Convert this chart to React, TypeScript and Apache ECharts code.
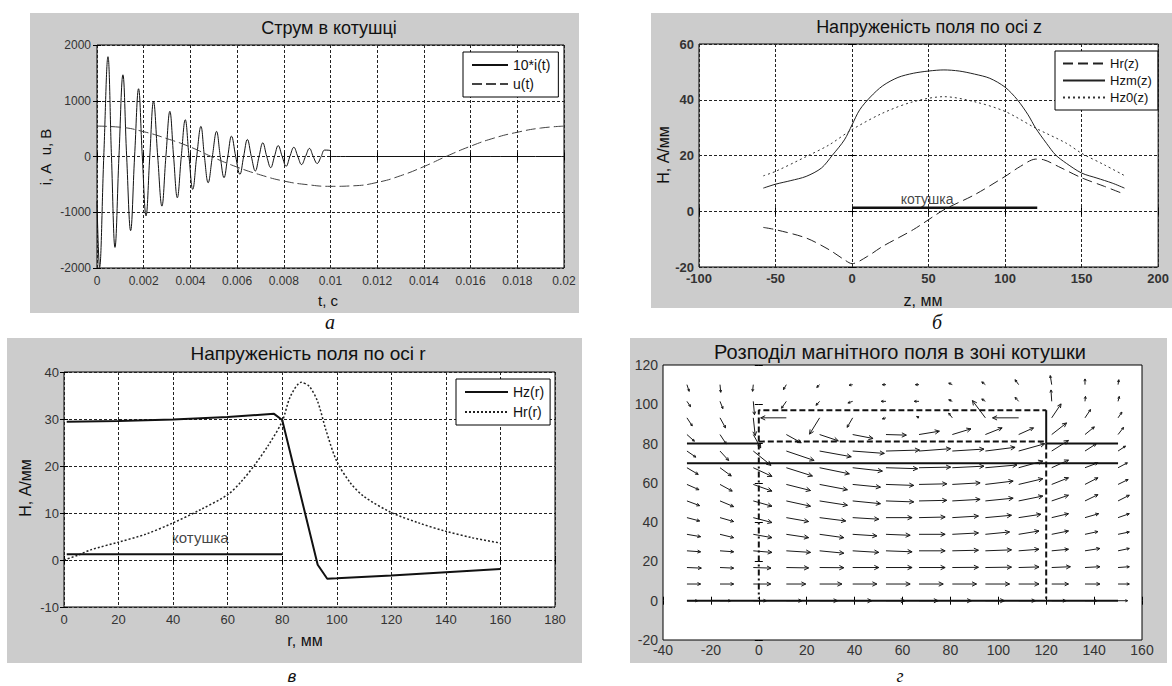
import React, { useEffect, useRef } from "react";
import * as echarts from "echarts";

// ---------- Panel а: current & voltage ----------
const currentT = [0, 0.00011, 0.00029, 0.00047, 0.00062, 0.00077, 0.00094, 0.00111, 0.00127, 0.00144, 0.00161, 0.00178, 0.00194, 0.0021, 0.00226, 0.00242, 0.0026, 0.00278, 0.00295, 0.00312, 0.00328, 0.00344, 0.00361, 0.00378, 0.00394, 0.0041, 0.00427, 0.00445, 0.0046, 0.00476, 0.00494, 0.00512, 0.00528, 0.00544, 0.0056, 0.00576, 0.00594, 0.00612, 0.00628, 0.00644, 0.00661, 0.00678, 0.00694, 0.0071, 0.00727, 0.00744, 0.0076, 0.00776, 0.00793, 0.0081, 0.00826, 0.00843, 0.0086, 0.00876, 0.00893, 0.0091, 0.00926, 0.00943, 0.0096, 0.00975, 0.01, 0.01, 0.02];
const currentI = [-800, -1990, 0, 1790, 0, -1630, 0, 1465, 0, -1330, 0, 1215, 0, -1065, 0, 990, 0, -890, 0, 810, 0, -740, 0, 660, 0, -590, 0, 540, 0, -470, 0, 450, 0, -380, 0, 365, 0, -320, 0, 305, 0, -260, 0, 245, 0, -200, 0, 195, 0, -175, 0, 165, 0, -145, 0, 145, 0, -125, 0, 115, 100, 0, 0];
const voltageT = [0, 0.001, 0.002, 0.003, 0.004, 0.005, 0.006, 0.007, 0.008, 0.009, 0.01, 0.011, 0.012, 0.013, 0.014, 0.015, 0.016, 0.017, 0.018, 0.019, 0.02];
const voltageU = [545, 525, 445, 320, 170, -20, -190, -330, -440, -505, -535, -525, -465, -345, -180, 10, 185, 330, 435, 510, 545];

// ---------- Panel б: field along z ----------
const hzmZ = [-58, -50, -40, -30, -20, -13, -5, 0, 5, 12, 20, 30, 40, 50, 60, 70, 80, 90, 100, 108, 115, 120, 127, 133, 140, 150, 160, 170, 178];
const hzmH = [8.3, 9.7, 11, 12.5, 15.5, 20, 25.6, 31, 36.4, 41, 45, 48, 49.5, 50.3, 50.7, 50.3, 49.2, 47.7, 44.5, 40, 34.6, 29.8, 24.4, 20.2, 17.2, 13.7, 11.9, 10.1, 8.3];
const hz0Z = [-58, -50, -30, -15, 0, 20, 40, 60, 80, 100, 120, 140, 150, 165, 178];
const hz0H = [12.7, 14.3, 19.6, 23.8, 29.3, 35.2, 39.3, 41.1, 39.3, 35.8, 29.8, 24.4, 20.8, 16.6, 12.8];
const hrZ = [-58, -50, -30, -15, -5, 0, 10, 20, 40, 60, 80, 100, 110, 120, 125, 135, 150, 165, 178];
const hrH = [-5.8, -6.6, -9.6, -13.8, -17.4, -18.8, -16.2, -12.6, -6.6, 0.5, 5.9, 12.5, 16.1, 18.7, 18.5, 16, 12, 8.9, 6.1];
const coilZ = [0, 121];
const coilZH = [1.3, 1.3];
const coilZLabel = [49, 1.3];

// ---------- Panel в: field along r ----------
const hzR = [1, 20, 40, 60, 77, 80, 93, 96.5, 100, 120, 140, 160];
const hzRH = [29.4, 29.6, 29.9, 30.4, 31.1, 29.8, -1, -4, -3.9, -3.3, -2.6, -1.9];
const hrR = [0, 5, 10, 20, 30, 40, 50, 60, 65, 70, 75, 80, 83, 87, 90, 93, 96, 100, 105, 110, 120, 130, 140, 150, 160];
const hrRH = [0, 1, 2.2, 3.8, 5.5, 7.9, 10.7, 13.9, 16.7, 20.3, 24.5, 29.5, 34.8, 37.8, 36.9, 33.7, 27.7, 21, 16.4, 13.5, 10.1, 7.9, 6.1, 4.7, 3.6];
const coilR = [1, 80];
const coilRH = [1.2, 1.2];
const coilRLabel = [50, 1.2];

// ---------- Panel г: field map ----------
const quiverX = [-30, -16.2, -2.3, 11.5, 25.4, 39.2, 53.1, 66.9, 80.8, 94.6, 108.5, 122.3, 136.2, 150];
const quiverY = [0, 8.5, 16.9, 25.4, 33.8, 42.3, 50.8, 59.2, 67.7, 76.2, 84.6, 93.1, 101.5, 110];
const quiverU = [
  [4.5, 4.5, 5.5, 6.5, 7.5, 8, 8, 8, 8, 8, 7, 6, 5, 4],
  [5.7, 5.7, 7.3, 8.1, 9.3, 10.1, 10.1, 10.1, 10.1, 10.1, 8.5, 7.0, 6.2, 4.7],
  [6.0, 5.7, 7.4, 9.3, 10.1, 10.9, 10.9, 10.9, 10.9, 10.9, 8.5, 7.8, 6.2, 4.7],
  [5.7, 5.7, 7.8, 10.1, 10.1, 10.9, 10.9, 10.9, 10.9, 10.9, 8.5, 7.0, 6.2, 4.7],
  [5.7, 5.7, 7.8, 9.3, 10.1, 10.1, 10.1, 10.9, 10.9, 10.1, 8.5, 7.0, 5.4, 4.7],
  [5.3, 5.7, 7.8, 9.3, 10.9, 10.9, 10.9, 10.9, 10.9, 10.9, 9.3, 7.0, 5.7, 4.7],
  [5.3, 5.7, 7.8, 10.1, 11.6, 11.6, 11.6, 11.6, 11.6, 11.6, 10.1, 7.0, 5.4, 4.7],
  [5.0, 5.1, 7.8, 10.1, 11.6, 11.6, 11.6, 11.6, 11.6, 11.6, 10.1, 7.0, 5.4, 4.2],
  [4.7, 4.7, 7.8, 10.9, 12.4, 12.4, 13.2, 13.2, 13.2, 13.2, 10.1, 7.0, 5.4, 3.9],
  [3.7, 3.6, 7.4, 11.6, 13.2, 13.2, 14.0, 13.2, 13.2, 12.4, 10.9, 7.0, 4.7, 3.1],
  [3.1, 2.6, 3.1, 6.2, 7.8, 8.5, 8.5, 8.5, 7.8, 7.0, 6.2, 6.2, 3.9, 2.3],
  [2.2, 2.3, 0.8, -10.7, -4.2, -2.3, -1.5, -1.0, -1.5, -5.4, -10.9, 3.9, 2.3, 1.6],
  [1.5, 1.2, 0.5, -2.0, -1.5, -2.0, -2.0, -2.0, -1.5, -1.5, -1.5, -0.3, 0.2, 0.5],
  [0.9, 0.3, -0.3, -1.2, -1.2, -1.5, -1.5, -1.5, -1.5, -1.5, -1.5, -0.6, 0, 0.3],
];
const quiverV = [
  [0, 0, 0, 0, 0, 0, 0, 0, 0, 0, 0, 0, 0, 0],
  [0, 0, 0, 0, 0, 0, 0, 0, 0, 0, 0, 0, 0, 0],
  [-0.3, -0.3, -0.3, -0.2, -0.1, 0, 0, 0, 0.1, 0.2, 0.3, 0.4, 0.4, 0.4],
  [-0.5, -0.5, -0.8, -0.8, -1.2, -0.8, -0.5, 0, 0.3, 0.5, 0.8, 0.8, 1.2, 1.2],
  [-1.2, -1.7, -1.7, -1.7, -1.7, -0.8, -0.5, 0, 0.7, 1.2, 1.7, 1.7, 1.4, 1.2],
  [-1.7, -2.0, -2.5, -2.0, -1.7, -0.8, 0, 0.3, 0.8, 1.2, 1.7, 2.0, 2.0, 2.0],
  [-2.4, -2.9, -2.7, -2.7, -2.2, -1.4, -0.5, 0.3, 0.8, 1.4, 2.5, 2.9, 3.2, 2.9],
  [-2.7, -3.4, -3.4, -3.1, -2.7, -1.4, -0.5, 0.3, 0.8, 1.7, 2.9, 3.4, 3.4, 2.5],
  [-3.4, -4.2, -4.4, -4.2, -3.1, -1.7, -0.5, 0.3, 0.8, 1.4, 3.4, 3.9, 2.5, 2.5],
  [-3.1, -4.8, -7.3, -4.8, -2.9, -1.2, 0.5, 1.2, 1.0, 1.9, 3.7, 5.4, 3.7, 2.5],
  [-3.4, -4.8, -6.8, -4.2, -3.2, -2.0, -0.3, 1.7, 2.9, 3.4, 3.4, 5.9, 3.9, 3.6],
  [-4.1, -5.1, -9.0, 0, -8.3, -4.8, -0.5, 0.7, 2.4, 8.8, 0, 7.1, 4.2, 2.9],
  [-2.7, -3.7, -6.8, -3.5, -2.0, -0.8, 0, 0, 0.8, 1.2, 2.0, 5.8, 2.5, 2.5],
  [-3.4, -3.9, -3.4, -2.5, -1.4, -0.3, 0, 0, 0.8, 1.4, 2.5, 4.6, 2.9, 2.5],
];
const baseLineX = [-30, 150];
const baseLineY = [0, 0];
const innerLineX = [-30, 150];
const innerLineY = [70, 70];
const outerLeftX = [-30, 0];
const outerLeftY = [80, 80];
const outerRightX = [120, 150];
const outerRightY = [80, 80];
const rectRightX = [120, 120];
const rectRightY = [97, 80];
const rectTopX = [0, 0, 120];
const rectTopY = [81, 97, 97];
const rectBottomX = [0, 120];
const rectBottomY = [81, 81];
const leftWallX = [0, 0];
const leftWallY = [80, 1];
const rightWallX = [120, 120];
const rightWallY = [80, 1];

// ---------- layout / style ----------
const FONT = "'Liberation Sans', Arial, Helvetica, sans-serif";
const PANEL_BOXES = [
  [30, 13, 549, 300],
  [651, 13, 521, 295],
  [7, 338, 575, 325],
  [630, 338, 537, 325],
];
const GRIDS = [
  { left: 97, top: 45, width: 467, height: 223 },
  { left: 699, top: 44, width: 464, height: 223 },
  { left: 64, top: 372, width: 491, height: 235 },
  { left: 663, top: 365, width: 479, height: 275 },
];

const pairs = (xs: number[], ys: number[]) => xs.map((x, i) => [x, ys[i]]);

function mainX(g: number, min: number, max: number, interval: number, fs: number, bold: boolean, split: boolean, margin: number, fmt?: (v: number) => string) {
  return {
    type: "value", gridIndex: g, min, max, interval, position: "bottom",
    axisLine: { show: false },
    axisTick: { show: true, inside: true, length: 4, lineStyle: { color: "#000" } },
    axisLabel: { show: true, margin, fontSize: fs, fontFamily: FONT, color: "#333", fontWeight: bold ? "bold" : "normal", formatter: fmt || ((v: number) => String(v)), showMinLabel: true, showMaxLabel: true },
    splitLine: { show: split, lineStyle: { color: "#222", width: 1, type: [3, 2] } },
  };
}
function mainY(g: number, min: number, max: number, interval: number, fs: number, bold: boolean, split: boolean, margin: number) {
  return {
    type: "value", gridIndex: g, min, max, interval, position: "left",
    axisLine: { show: false },
    axisTick: { show: true, inside: true, length: 4, lineStyle: { color: "#000" } },
    axisLabel: { show: true, margin, fontSize: fs, fontFamily: FONT, color: "#333", fontWeight: bold ? "bold" : "normal", formatter: (v: number) => String(v), showMinLabel: true, showMaxLabel: true },
    splitLine: { show: split, lineStyle: { color: "#222", width: 1, type: [3, 2] } },
  };
}
function mirror(kind: "x" | "y", g: number, min: number, max: number, interval: number) {
  return {
    type: "value", gridIndex: g, min, max, interval, position: kind === "x" ? "top" : "right",
    axisLine: { show: false },
    axisTick: { show: true, inside: true, length: 4, lineStyle: { color: "#000" } },
    axisLabel: { show: false },
    splitLine: { show: false },
  };
}

function lineSeries(name: string, g: number, xs: number[], ys: number[], lineStyle: any, smooth: number | boolean = false) {
  return {
    type: "line", name, xAxisIndex: g, yAxisIndex: g, data: pairs(xs, ys),
    symbol: "none", showSymbol: false, smooth, lineStyle, itemStyle: { color: lineStyle.color }, silent: true, z: 3,
  };
}

function labelSeries(g: number, pt: number[], text: string, fs: number, dist: number) {
  return {
    type: "scatter", xAxisIndex: g, yAxisIndex: g, data: [pt], symbolSize: 2,
    itemStyle: { color: "rgba(0,0,0,0)" }, silent: true, z: 4,
    label: { show: true, position: "top", distance: dist, formatter: text, fontSize: fs, fontFamily: FONT, color: "#111" },
  };
}

const renderArrow = (_params: any, api: any) => {
  const x = api.value(0), y = api.value(1), u = api.value(2), v = api.value(3);
  const p0 = api.coord([x, y]);
  const p1 = api.coord([x + u, y + v]);
  const dx = p1[0] - p0[0], dy = p1[1] - p0[1];
  const L = Math.hypot(dx, dy);
  const ang = Math.atan2(dy, dx);
  const h = Math.min(5, Math.max(2.5, L * 0.25));
  const a = 0.45;
  return {
    type: "group",
    children: [
      { type: "line", shape: { x1: p0[0], y1: p0[1], x2: p1[0], y2: p1[1] }, style: { stroke: "#1a1a1a", lineWidth: 1 } },
      {
        type: "polyline",
        shape: { points: [[p1[0] - h * Math.cos(ang - a), p1[1] - h * Math.sin(ang - a)], [p1[0], p1[1]], [p1[0] - h * Math.cos(ang + a), p1[1] - h * Math.sin(ang + a)]] },
        style: { stroke: "#1a1a1a", lineWidth: 1, fill: "none" },
      },
    ],
  };
};

function txt(text: string, x: number, y: number, font: string, rotation = 0) {
  return { type: "text", x, y, rotation, silent: true, style: { text, font, fill: "#111", align: "center", verticalAlign: "middle", textAlign: "center", textVerticalAlign: "middle" } };
}

export default function App() {
  const ref = useRef<HTMLDivElement>(null);
  useEffect(() => {
    if (!ref.current) return;
    const chart = echarts.init(ref.current, undefined, { renderer: "svg" });
    const quiverData: number[][] = [];
    quiverY.forEach((y, r) => quiverX.forEach((x, c) => quiverData.push([x, y, quiverU[r][c], quiverV[r][c]])));

    const legendBase = {
      orient: "vertical", selectedMode: false, backgroundColor: "#fff", borderColor: "#000", borderWidth: 1, borderRadius: 0,
      itemStyle: { opacity: 0 },
    };

    const option: any = {
      animation: false,
      grid: GRIDS.map((g) => ({ ...g, show: true, backgroundColor: "#fff", borderColor: "#000", borderWidth: 1, containLabel: false })),
      xAxis: [
        mainX(0, 0, 0.02, 0.002, 12, false, true, 7, (v: number) => String(Math.round(v * 10000) / 10000)),
        mainX(1, -100, 200, 50, 13, true, true, 5),
        mainX(2, 0, 180, 20, 13, false, true, 6),
        mainX(3, -40, 160, 20, 14, false, false, 3),
        mirror("x", 0, 0, 0.02, 0.002),
        mirror("x", 1, -100, 200, 50),
        mirror("x", 2, 0, 180, 20),
        mirror("x", 3, -40, 160, 20),
      ],
      yAxis: [
        mainY(0, -2000, 2000, 1000, 12, false, true, 6),
        mainY(1, -20, 60, 20, 13, true, true, 5),
        mainY(2, -10, 40, 10, 13, false, true, 5),
        mainY(3, -20, 120, 20, 14, false, false, 5),
        mirror("y", 0, -2000, 2000, 1000),
        mirror("y", 1, -20, 60, 20),
        mirror("y", 2, -10, 40, 10),
        mirror("y", 3, -20, 120, 20),
      ],
      legend: [
        { ...legendBase, data: ["10*i(t)", "u(t)"], left: 463, top: 52, padding: [6, 8, 6, 8], itemWidth: 36, itemHeight: 14, itemGap: 5, textStyle: { fontSize: 14, fontFamily: FONT, color: "#111" } },
        { ...legendBase, data: ["Hr(z)", "Hzm(z)", "Hz0(z)"], left: 1055, top: 51, padding: [6, 6, 6, 7], itemWidth: 42, itemHeight: 14, itemGap: 4, textStyle: { fontSize: 13, fontFamily: FONT, color: "#111" } },
        { ...legendBase, data: ["Hz(r)", "Hr(r)"], left: 456, top: 379, padding: [6, 6, 6, 8], itemWidth: 43, itemHeight: 14, itemGap: 6, textStyle: { fontSize: 14, fontFamily: FONT, color: "#111" } },
      ],
      series: [
        lineSeries("10*i(t)", 0, currentT, currentI, { color: "#111", width: 1, type: "solid" }, 0.4),
        lineSeries("u(t)", 0, voltageT, voltageU, { color: "#444", width: 1, type: [10, 4] }, true),

        lineSeries("Hr(z)", 1, hrZ, hrH, { color: "#222", width: 1, type: [10, 5] }, 0.3),
        lineSeries("Hzm(z)", 1, hzmZ, hzmH, { color: "#222", width: 1, type: "solid" }, 0.3),
        lineSeries("Hz0(z)", 1, hz0Z, hz0H, { color: "#333", width: 1, type: [2, 3] }, 0.3),
        lineSeries("coilZ", 1, coilZ, coilZH, { color: "#111", width: 2.5, type: "solid" }),
        labelSeries(1, coilZLabel, "котушка", 14, 1),

        lineSeries("Hz(r)", 2, hzR, hzRH, { color: "#111", width: 2, type: "solid" }),
        lineSeries("Hr(r)", 2, hrR, hrRH, { color: "#222", width: 1.5, type: [2, 2] }, 0.3),
        lineSeries("coilR", 2, coilR, coilRH, { color: "#111", width: 2, type: "solid" }),
        labelSeries(2, coilRLabel, "котушка", 15, 8),

        lineSeries("g1", 3, baseLineX, baseLineY, { color: "#111", width: 2, type: "solid" }),
        lineSeries("g2", 3, innerLineX, innerLineY, { color: "#111", width: 2, type: "solid" }),
        lineSeries("g3", 3, outerLeftX, outerLeftY, { color: "#111", width: 2, type: "solid" }),
        lineSeries("g4", 3, outerRightX, outerRightY, { color: "#111", width: 2, type: "solid" }),
        lineSeries("g5", 3, rectRightX, rectRightY, { color: "#111", width: 2, type: "solid" }),
        lineSeries("g6", 3, rectTopX, rectTopY, { color: "#111", width: 2, type: [6, 3] }),
        lineSeries("g7", 3, rectBottomX, rectBottomY, { color: "#111", width: 2, type: [6, 3] }),
        lineSeries("g8", 3, leftWallX, leftWallY, { color: "#111", width: 2, type: [6, 3, 2, 3] }),
        lineSeries("g9", 3, rightWallX, rightWallY, { color: "#111", width: 2, type: [6, 3] }),
        {
          type: "custom", name: "quiver", xAxisIndex: 3, yAxisIndex: 3, data: quiverData,
          encode: { x: 0, y: 1 }, renderItem: renderArrow, silent: true, z: 2, clip: false,
        },
      ],
      graphic: [
        txt("Струм в котушці", 329, 28, `18px ${FONT}`),
        txt("Напруженість поля по осі z", 929, 27, `18px ${FONT}`),
        txt("Напруженість поля по осі r", 308, 353, `19px ${FONT}`),
        txt("Розподіл магнітного поля в зоні котушки", 900, 352, `20px ${FONT}`),
        txt("i, А  u, В", 45, 157, `15px ${FONT}`, Math.PI / 2),
        txt("t, с", 328, 300, `15px ${FONT}`),
        txt("H, А/мм", 663, 155, `16px ${FONT}`, Math.PI / 2),
        txt("z, мм", 923, 300, `16px ${FONT}`),
        txt("H, А/мм", 25, 488, `16px ${FONT}`, Math.PI / 2),
        txt("r, мм", 305, 640, `16px ${FONT}`),
        txt("а", 330, 322, `italic 20px 'Liberation Serif', serif`),
        txt("б", 937, 322, `italic 20px 'Liberation Serif', serif`),
        txt("в", 292, 676, `italic 17px ${FONT}`),
        txt("г", 900, 676, `italic 18px 'Liberation Serif', serif`),
      ],
    };
    chart.setOption(option);
    return () => chart.dispose();
  }, []);

  return (
    <div style={{ position: "absolute", left: 0, top: 0, width: 1172, height: 686, background: "#fff" }}>
      {PANEL_BOXES.map((b, i) => (
        <div key={i} style={{ position: "absolute", left: b[0], top: b[1], width: b[2], height: b[3], background: "#cccccc" }} />
      ))}
      <div ref={ref} style={{ position: "absolute", left: 0, top: 0, width: 1172, height: 686 }} />
    </div>
  );
}
